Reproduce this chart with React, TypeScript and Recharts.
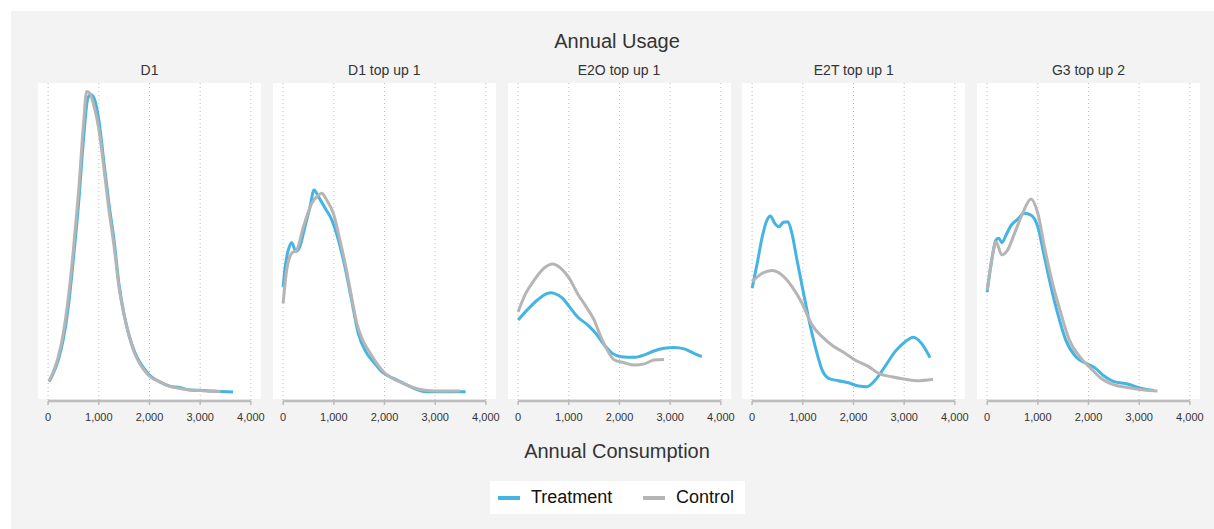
import { LineChart, Line, XAxis, YAxis, CartesianGrid, ReferenceLine } from "recharts";

// kernel density curves, [annual consumption, density (arbitrary units)]
const d1Treatment = [[20, 3.8], [100, 6.5], [200, 11], [300, 18], [400, 29], [500, 45], [600, 63], [700, 85], [780, 98], [840, 99.5], [900, 98.5], [1000, 91], [1100, 77], [1200, 63], [1300, 51], [1400, 36], [1500, 26], [1600, 19], [1700, 14], [1800, 10.5], [1900, 8], [2000, 6], [2200, 3.7], [2400, 2.3], [2600, 1.8], [2800, 1], [3000, 0.9], [3200, 0.7], [3400, 0.5], [3650, 0.3]];
const d1Control = [[20, 4], [100, 7], [200, 12], [300, 20], [400, 32], [500, 48], [600, 67], [700, 90], [760, 100.5], [820, 100], [900, 96], [1000, 88], [1100, 75], [1200, 61], [1300, 49], [1400, 35], [1500, 26], [1600, 19], [1700, 13.5], [1800, 10], [1900, 7.5], [2000, 5.6], [2200, 3.8], [2400, 2.2], [2600, 1.5], [2800, 1], [3000, 0.8], [3200, 0.6], [3400, 0.5]];

const d1TopTreatment = [[0, 35.4], [40, 42], [100, 47.5], [170, 50.1], [250, 47.2], [330, 48.8], [430, 55.4], [530, 62], [610, 67.7], [700, 65.3], [830, 61.6], [960, 57.7], [1090, 51], [1220, 42], [1350, 31], [1480, 20], [1650, 13.2], [1800, 10], [1950, 7], [2100, 5.5], [2250, 4.3], [2400, 3], [2570, 1.6], [2830, 0.4], [3220, 0.4], [3600, 0.4]];
const d1TopControl = [[0, 29.9], [70, 41], [170, 46.6], [270, 47.7], [400, 55.4], [565, 63.2], [700, 66], [760, 66.6], [860, 64.3], [990, 59.9], [1120, 51], [1250, 41], [1350, 32], [1450, 23.5], [1560, 18], [1710, 13.5], [1850, 9.8], [1980, 7.1], [2370, 3.2], [2760, 1], [3030, 0.7], [3490, 0.7]];

const e2oTreatment = [[0, 24.3], [180, 27.7], [380, 31], [580, 33.2], [650, 33.4], [710, 33.2], [875, 31.6], [1010, 28.8], [1170, 25.4], [1370, 22.7], [1530, 19.9], [1700, 16], [1860, 13.2], [2030, 12.1], [2290, 11.9], [2490, 12.7], [2680, 14], [2880, 14.9], [3080, 15.2], [3280, 14.7], [3470, 13.2], [3625, 12.1]];
const e2oControl = [[0, 27.1], [150, 33.2], [320, 37.7], [510, 41.6], [680, 43], [840, 41.6], [1010, 38.2], [1170, 33.2], [1340, 28.8], [1500, 24.3], [1630, 18.8], [1760, 14.3], [1900, 11], [2090, 10.1], [2290, 9.3], [2490, 9.7], [2680, 11], [2880, 11.2]];

const e2tTreatment = [[0, 34.9], [100, 43.2], [200, 52.1], [295, 57.7], [360, 59], [445, 56.6], [525, 55.4], [620, 56.9], [705, 57.1], [785, 53.2], [885, 44.3], [1015, 33.2], [1150, 22.1], [1280, 13.2], [1380, 7.7], [1510, 4.9], [1700, 4.1], [1900, 3.4], [2100, 2.3], [2260, 2.1], [2430, 4.3], [2620, 8.8], [2820, 13.8], [3020, 17.1], [3180, 18.6], [3340, 16.6], [3510, 11.8]];
const e2tControl = [[0, 37.1], [200, 39.9], [390, 40.8], [590, 39.3], [790, 35.4], [985, 29.9], [1180, 22.7], [1380, 18.8], [1570, 16], [1840, 13.2], [2030, 11], [2300, 8.8], [2490, 6.6], [2750, 5.4], [3020, 4.6], [3250, 4.1], [3570, 4.6]];

const g3Treatment = [[0, 33.6], [80, 43.2], [175, 51], [230, 51.6], [290, 50.1], [375, 52.7], [470, 55.8], [600, 57.9], [735, 59.9], [865, 59.3], [1000, 55.4], [1130, 45.4], [1260, 35.4], [1390, 26.6], [1550, 17.7], [1750, 12.1], [1950, 9.9], [2140, 8.2], [2280, 6], [2500, 3.8], [2770, 3], [3030, 1.6], [3290, 0.8]];
const g3Control = [[0, 34.3], [90, 44.3], [175, 50.4], [290, 46], [405, 47.7], [540, 53.2], [700, 59.9], [865, 64.7], [1000, 59.9], [1130, 48.8], [1290, 36.6], [1455, 26.6], [1620, 17.7], [1850, 11.6], [2045, 8.2], [2245, 4.9], [2505, 2.7], [2770, 1.8], [3095, 1], [3360, 0.7]];

const panelTitles = ["D1", "D1 top up 1", "E2O top up 1", "E2T top up 1", "G3 top up 2"];
const treatmentSeries = [d1Treatment, d1TopTreatment, e2oTreatment, e2tTreatment, g3Treatment];
const controlSeries = [d1Control, d1TopControl, e2oControl, e2tControl, g3Control];
const xTicks = [0, 1000, 2000, 3000, 4000];

const BLUE = "#44b4e2";
const GRAY = "#b5b5b5";
const FONT = "Arial, 'Liberation Sans', sans-serif";
const Y_MIN = -2.67;
const Y_MAX = 103.33;
const PAD = 14;

const toPoints = (arr: number[][]) => arr.map(([x, y]) => ({ x, y }));

function Panel({ idx }: { idx: number }) {
  const left = 38 + idx * 234.75;
  return (
    <>
      <div style={{ position: "absolute", left, top: 83, width: 223, height: 316, background: "#fff" }} />
      <div style={{ position: "absolute", left, top: 62, width: 223, textAlign: "center", fontSize: 14, color: "#333", fontFamily: FONT }}>
        {panelTitles[idx]}
      </div>
      <div style={{ position: "absolute", left: left - PAD, top: 83 }}>
        <LineChart width={223 + PAD * 2} height={350} margin={{ top: 0, right: PAD, bottom: 0, left: PAD }}>
          <CartesianGrid horizontal={false} stroke="#bdbdbd" strokeDasharray="1 3" verticalValues={xTicks} />
          <XAxis
            dataKey="x"
            type="number"
            domain={[-200, 4200]}
            ticks={xTicks}
            allowDataOverflow
            axisLine={false}
            tickLine={{ stroke: "#bbb", strokeWidth: 1.5 }}
            tickSize={4}
            tickMargin={8}
            height={32}
            tick={{ fontSize: 11, fill: "#333", fontFamily: FONT }}
            tickFormatter={(v: number) => v.toLocaleString("en-US")}
          />
          <YAxis hide type="number" domain={[Y_MIN, Y_MAX]} allowDataOverflow />
          <ReferenceLine
            segment={[{ x: 0, y: Y_MIN }, { x: 4000, y: Y_MIN }]}
            stroke="#bdbdbd"
            strokeWidth={2.5}
            ifOverflow="visible"
          />
          <Line data={toPoints(treatmentSeries[idx])} dataKey="y" type="monotone" stroke={BLUE} strokeWidth={3} dot={false} isAnimationActive={false} />
          <Line data={toPoints(controlSeries[idx])} dataKey="y" type="monotone" stroke={GRAY} strokeWidth={3} dot={false} isAnimationActive={false} />
        </LineChart>
      </div>
    </>
  );
}

export default function App() {
  return (
    <div style={{ position: "absolute", left: 0, top: 0, width: 1214, height: 529, background: "#fff", overflow: "hidden", fontFamily: FONT }}>
      <div style={{ position: "absolute", left: 11, top: 11, width: 1203, height: 518, background: "#f3f3f3" }} />
      <div style={{ position: "absolute", left: 0, width: 1234, top: 30, textAlign: "center", fontSize: 20, color: "#333" }}>Annual Usage</div>
      {panelTitles.map((_, i) => (
        <Panel key={i} idx={i} />
      ))}
      <div style={{ position: "absolute", left: 0, width: 1234, top: 440, textAlign: "center", fontSize: 20, color: "#333" }}>Annual Consumption</div>
      <div style={{ position: "absolute", left: 490, top: 481, width: 255, height: 33, background: "#fff" }}>
        <div style={{ position: "absolute", left: 8, top: 15, width: 22, height: 4, background: BLUE }} />
        <div style={{ position: "absolute", left: 41, top: 6, fontSize: 18, color: "#111" }}>Treatment</div>
        <div style={{ position: "absolute", left: 153, top: 15, width: 22, height: 4, background: GRAY }} />
        <div style={{ position: "absolute", left: 186, top: 6, fontSize: 18, color: "#111" }}>Control</div>
      </div>
    </div>
  );
}
